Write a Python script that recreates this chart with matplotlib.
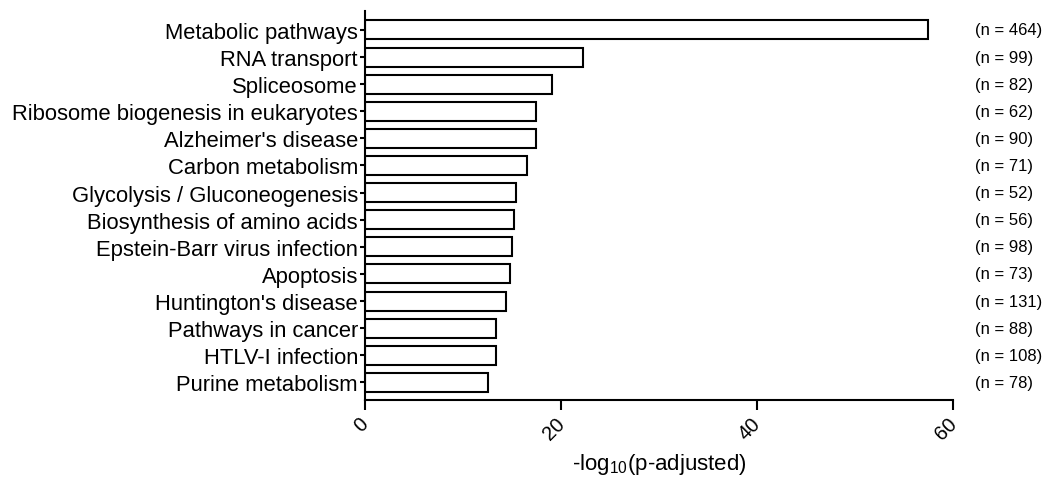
import matplotlib
matplotlib.use("Agg")
import matplotlib.pyplot as plt
from matplotlib.transforms import blended_transform_factory, ScaledTranslation

plt.rcParams['font.family'] = ['Liberation Sans', 'DejaVu Sans']
plt.rcParams['mathtext.default'] = 'regular'

pathways = [
    "Metabolic pathways",
    "RNA transport",
    "Spliceosome",
    "Ribosome biogenesis in eukaryotes",
    "Alzheimer's disease",
    "Carbon metabolism",
    "Glycolysis / Gluconeogenesis",
    "Biosynthesis of amino acids",
    "Epstein-Barr virus infection",
    "Apoptosis",
    "Huntington's disease",
    "Pathways in cancer",
    "HTLV-I infection",
    "Purine metabolism",
]
neg_log_padj = [57.5, 22.2, 19.1, 17.5, 17.4, 16.5, 15.4,
                15.2, 15.0, 14.8, 14.4, 13.4, 13.4, 12.6]
gene_counts = [464, 99, 82, 62, 90, 71, 52, 56, 98, 73, 131, 88, 108, 78]
x_ticks = [0, 20, 40, 60]

fig = plt.figure(figsize=(10.5, 4.89), dpi=100)
ax = fig.add_axes([0.3476, 0.18, 0.56, 0.7955])

n = len(pathways)
ypos = [n - 1 - i for i in range(n)]
ax.barh(ypos, neg_log_padj, height=0.7, color='white',
        edgecolor='black', linewidth=1.5)

ax.set_xlim(0, 60)
ax.set_ylim(-0.65, n - 1 + 0.7)
ax.set_yticks(ypos)
ax.set_yticklabels(pathways, fontsize=15.8)
ax.set_xticks(x_ticks)
ax.set_xticklabels([str(t) for t in x_ticks], fontsize=14.5,
                   rotation=45, ha='right', va='top', rotation_mode='anchor')

ax.tick_params(axis='y', length=3.6, width=1.5, pad=1.5)
ax.tick_params(axis='x', length=7, width=1.5, pad=3)

# nudge the rotated tick labels so their ends sit under the ticks
shift = ScaledTranslation(-0.06, 0, fig.dpi_scale_trans)
for lbl in ax.get_xticklabels():
    lbl.set_transform(lbl.get_transform() + shift)

for side in ('top', 'right'):
    ax.spines[side].set_visible(False)
for side in ('left', 'bottom'):
    ax.spines[side].set_linewidth(1.5)

ax.set_xlabel('-log$_{10}$(p-adjusted)', fontsize=16, labelpad=6)

trans = blended_transform_factory(ax.transAxes, ax.transData)
for y, c in zip(ypos, gene_counts):
    ax.text(1.037, y, f"(n = {c})", transform=trans, fontsize=12,
            ha='left', va='center', clip_on=False)

fig.savefig('out.png', dpi=100)
